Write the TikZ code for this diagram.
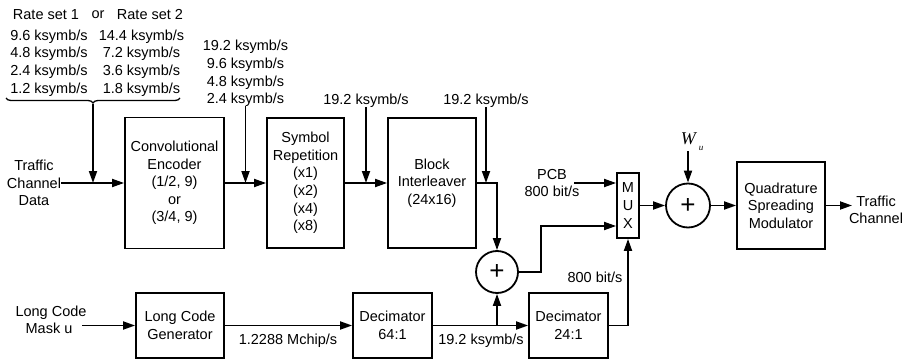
\documentclass[tikz,border=0pt]{standalone}
\usepackage{fontspec}
\setmainfont{Liberation Sans}
\newfontfamily\wfont{Liberation Serif}
\usetikzlibrary{arrows.meta,decorations.pathreplacing}

\begin{document}
\begin{tikzpicture}[
        x=1pt, y=-1pt,
        line cap=butt,
        line join=miter,
        every node/.style={font=\fontsize{14.5}{17.6}\selectfont, inner sep=0pt},
        blk/.style={draw, line width=1.8pt, align=center},
        sum/.style={draw, circle, line width=1.8pt, font=\fontsize{26}{26}\selectfont},
        arr/.style={line width=1.8pt, -{Triangle[length=12pt,width=8pt]}},
        txt/.style={align=center}
    ]
        \useasboundingbox (0,0) rectangle (905,361);

        % rates
        \node (rs1) at (46,15) {Rate set 1};
        \node (rsor) at (98,15) {or};
        \node (rs2) at (150,15) {Rate set 2};
        \node[txt] (col1) at (49,63) {9.6 ksymb/s\\4.8 ksymb/s\\2.4 ksymb/s\\1.2 ksymb/s};
        \node[txt] (col2) at (141.5,63) {14.4 ksymb/s\\7.2 ksymb/s\\3.6 ksymb/s\\1.8 ksymb/s};
        \draw[line width=1.3pt, decorate, decoration={brace, mirror, amplitude=5pt}] (6,98) -- (180,98);
        \coordinate (bt) at (93,104);
        \node[txt] (col3) at (245.5,73.5) {19.2 ksymb/s\\9.6 ksymb/s\\4.8 ksymb/s\\2.4 ksymb/s};
        \node (r4) at (366,101) {19.2 ksymb/s};
        \node (r5) at (486,101) {19.2 ksymb/s};

        % upper chain
        \node[txt] (tcd) at (34,183) {Traffic\\Channel\\Data};
        \node[blk, minimum width=99, minimum height=131] (enc) at (174.5,183) {Convolutional\\Encoder\\(1/2, 9)\\or\\(3/4, 9)};
        \node[blk, minimum width=77, minimum height=130] (rep) at (305.5,183) {Symbol\\Repetition\\(x1)\\(x2)\\(x4)\\(x8)};
        \node[blk, minimum width=88, minimum height=130] (intl) at (432,183) {Block\\Interleaver\\(24x16)};
        \node[sum, minimum size=42] (sum1) at (497,272) {+};
        \node[blk, minimum width=22, minimum height=65] (mux) at (628,205.5) {M\\U\\X};
        \node[sum, minimum size=44] (sum2) at (688,205.5) {+};
        \node[blk, minimum width=88, minimum height=87] (qsm) at (781,205.5) {Quadrature\\Spreading\\Modulator};
        \node[txt] (out) at (876,210) {Traffic\\Channel};
        \coordinate (qout) at (852,205.5);
        \node[txt] (pcb) at (552,183) {PCB\\800 bit/s};
        \coordinate (pcbin) at (574,183);
        \node (wu) at (692,142) {{\wfont\itshape\fontsize{18}{18}\selectfont W}\hspace{3pt}\raisebox{-6pt}{\wfont\itshape\fontsize{9}{9}\selectfont u}};
        \coordinate (wua) at (688,151);
        \coordinate (jn) at (541,272);

        % lower chain
        \node[txt] (lcm) at (51,320) {Long Code\\Mask u\phantom{ }};
        \coordinate (lcmo) at (82,325.5);
        \node[blk, minimum width=88, minimum height=65] (lcg) at (180,325.5) {Long Code\\Generator};
        \node[blk, minimum width=79, minimum height=65] (dec64) at (392.5,325.5) {Decimator\\64:1};
        \node[blk, minimum width=79, minimum height=65] (dec24) at (568.5,325.5) {Decimator\\24:1};
        \node (chip) at (288,341) {1.2288 Mchip/s};
        \node (r6) at (481,341) {19.2 ksymb/s};
        \node (r7) at (595,277) {800 bit/s};

        \draw[arr] (tcd.east) -- (tcd.east -| enc.west);
        \draw[arr] (bt) -- (bt |- enc);
        \draw[arr] (col3.south) ++(0,-1) -- (col3.south |- rep);
        \draw[arr] (r4.south) ++(0,-1) -- (r4.south |- rep);
        \draw[arr] (r5.south) ++(0,-1) -- (r5.south |- rep);
        \foreach \a/\b in {enc/rep, rep/intl, mux/sum2, sum2/qsm, lcg/dec64, dec64/dec24}{
            \draw[arr] (\a) -- (\b);
        }
        \draw[arr] (intl.east) -| (sum1.north);
        \draw[arr] (sum1.south |- dec64) -- (sum1.south);
        \draw[arr] (sum1.east) -- (jn) |- ([yshift=-20.5pt]mux.west);
        \draw[arr] (pcbin) -- (pcbin -| mux.west);
        \draw[arr] (dec24.east) -| (mux.south);
        \draw[arr] (wua) -- (sum2.north);
        \draw[arr] (qsm.east) -- (qout);
        \draw[arr] (lcmo) -- (lcg.west);
    \end{tikzpicture}
\end{document}
